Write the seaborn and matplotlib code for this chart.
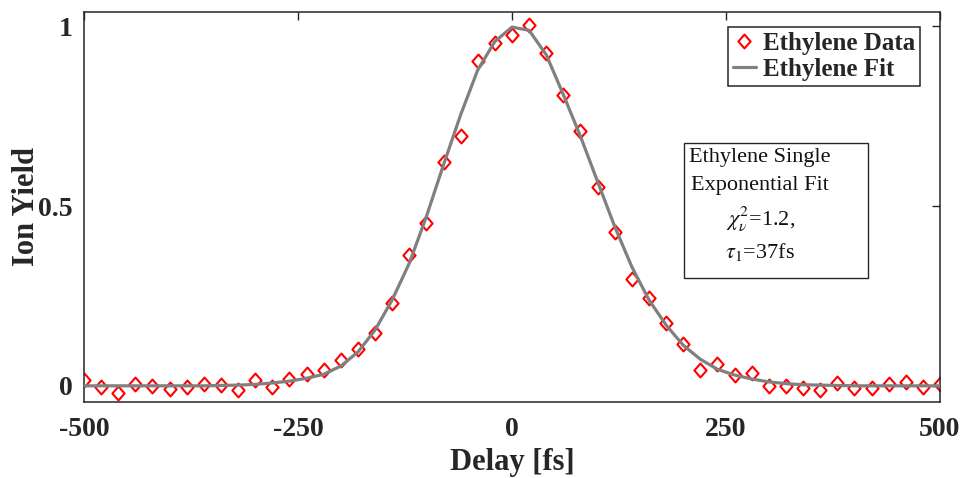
import matplotlib
matplotlib.use("Agg")
import matplotlib.pyplot as plt
import seaborn as sns
import pandas as pd
from matplotlib.patches import Rectangle
from matplotlib.lines import Line2D
from matplotlib.path import Path

delay = [-500, -480, -460, -440, -420, -400, -380, -360, -340, -320,
         -300, -280, -260, -240, -220, -200, -180, -160, -140, -120,
         -100, -80, -60, -40, -20, 0, 20, 40, 60, 80,
         100, 120, 140, 160, 180, 200, 220, 240, 260, 280,
         300, 320, 340, 360, 380, 400, 420, 440, 460, 480, 500]

data_yield = [0.015, -0.003, -0.019, 0.004, 0.0, -0.008, -0.003, 0.004, 0.003, -0.011,
              0.015, -0.003, 0.020, 0.032, 0.045, 0.073, 0.102, 0.147, 0.231, 0.363,
              0.454, 0.624, 0.695, 0.904, 0.955, 0.976, 1.003, 0.927, 0.808, 0.710,
              0.554, 0.427, 0.296, 0.243, 0.175, 0.115, 0.045, 0.062, 0.030, 0.035,
              0.0, 0.0, -0.005, -0.013, 0.009, -0.005, -0.005, 0.006, 0.010, -0.003, 0.006]

fit_yield = [0.0, 0.0, 0.0, 0.0, 0.0, 0.0, 0.0, 0.0, 0.001, 0.002,
             0.004, 0.008, 0.013, 0.021, 0.032, 0.055, 0.094, 0.155, 0.239, 0.341,
             0.471, 0.615, 0.754, 0.879, 0.958, 0.998, 0.989, 0.921, 0.810, 0.694,
             0.568, 0.443, 0.331, 0.239, 0.169, 0.113, 0.074, 0.046, 0.030, 0.019,
             0.011, 0.006, 0.003, 0.002, 0.001, 0.0, 0.0, 0.0, 0.0, 0.0, 0.0]

x_ticks = [-500, -250, 0, 250, 500]
x_tick_labels = ["-500", "-250", "0", "250", "500"]
y_ticks = [0, 0.5, 1]
y_tick_labels = ["0", "0.5", "1"]

sns.set_style("white")
plt.rcParams["font.family"] = ["Liberation Serif", "DejaVu Serif"]
plt.rcParams["mathtext.fontset"] = "stix"

df = pd.DataFrame({"delay": delay, "data": data_yield, "fit": fit_yield})

diamond = Path([(0, -1), (0.88, 0), (0, 1), (-0.88, 0), (0, -1)],
               [Path.MOVETO, Path.LINETO, Path.LINETO, Path.LINETO, Path.CLOSEPOLY])

fig = plt.figure(figsize=(9.64, 4.78), dpi=100)
ax = fig.add_axes([84 / 964, 76 / 478, 856 / 964, 390 / 478])

sns.lineplot(data=df, x="delay", y="data", ax=ax, linestyle="", marker=diamond,
             markersize=10, markerfacecolor="none", markeredgecolor="#ff0000",
             markeredgewidth=1.5, zorder=2)
sns.lineplot(data=df, x="delay", y="fit", ax=ax, color="#808080", linewidth=2.3,
             zorder=3)

ax.set_xlim(-500, 500)
ax.set_ylim(-0.045, 1.04)
ax.set_xticks(x_ticks)
ax.set_xticklabels(x_tick_labels)
ax.set_yticks(y_ticks)
ax.set_yticklabels(y_tick_labels)
ax.tick_params(axis="both", direction="in", length=6, width=1.0, color="#262626",
               top=True, right=True, labelsize=20)
ax.tick_params(axis="x", pad=11)
ax.tick_params(axis="y", pad=8)
for lab in ax.get_xticklabels() + ax.get_yticklabels():
    lab.set_fontweight("bold")
    lab.set_color("#262626")
for sp in ax.spines.values():
    sp.set_visible(True)
    sp.set_color("#262626")
    sp.set_linewidth(1.1)

ax.set_xlabel("Delay [fs]", fontsize=22, fontweight="bold", color="#262626", labelpad=4)
ax.set_ylabel("Ion Yield", fontsize=22, fontweight="bold", color="#262626")
ax.yaxis.set_label_coords(-0.050, 0.5)

handles = [
    Line2D([], [], linestyle="", marker=diamond, markersize=10, markerfacecolor="none",
           markeredgecolor="#ff0000", markeredgewidth=1.5),
    Line2D([], [], color="#808080", linewidth=2.3),
]
leg = ax.legend(handles, ["Ethylene Data", "Ethylene Fit"], loc="upper right",
                bbox_to_anchor=(0.977, 0.962), fancybox=False, framealpha=1,
                edgecolor="#262626", prop={"weight": "bold", "size": 18},
                handlelength=0.9, handletextpad=0.3, labelspacing=0.12,
                borderpad=0.2, borderaxespad=0.0)
leg.get_frame().set_linewidth(1.1)

ax.add_patch(Rectangle((0.701, 0.318), 0.215, 0.346, transform=ax.transAxes,
                       facecolor="white", edgecolor="#262626", linewidth=1.0,
                       zorder=5))
text_lines = ["Ethylene Single", "Exponential Fit",
              r"$\chi^2_\nu$=1.2,", r"$\tau_1$=37fs"]
text_y = [0.626, 0.556, 0.468, 0.385]
for t, yy in zip(text_lines, text_y):
    ax.text(0.790, yy, t, transform=ax.transAxes, ha="center", va="center",
            fontsize=16, color="#111111", zorder=6)

fig.savefig("out.png", dpi=100)
